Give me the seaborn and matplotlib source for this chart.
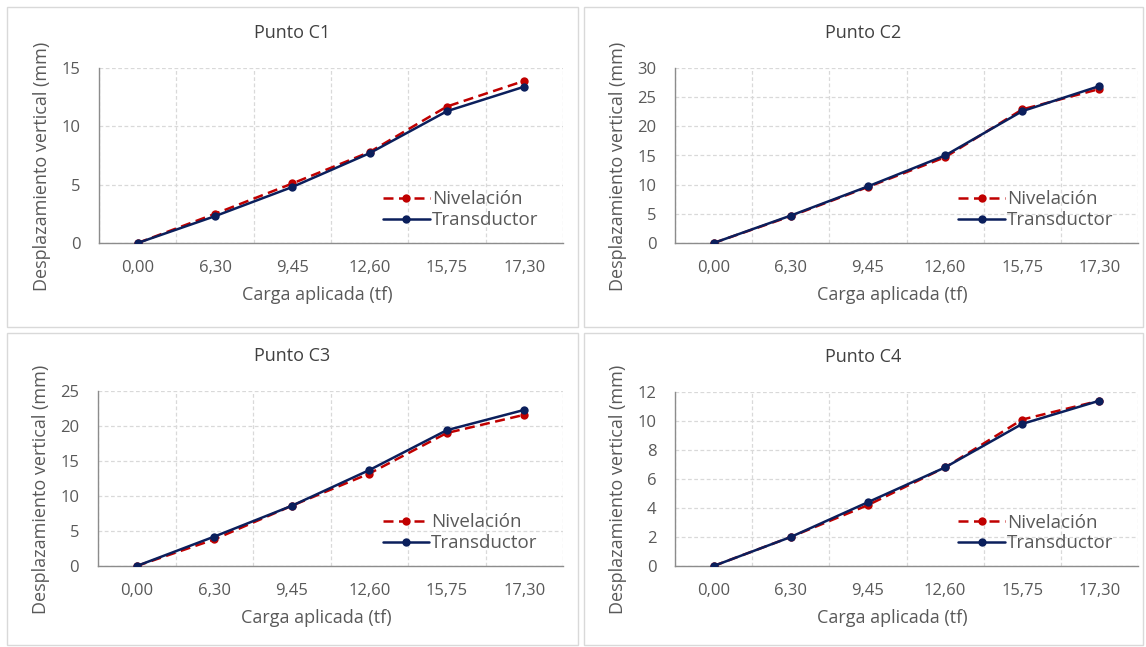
import numpy as np
import pandas as pd
import matplotlib
matplotlib.use("Agg")
import matplotlib.pyplot as plt
from matplotlib.patches import Rectangle
import seaborn as sns

# ---------------- data ----------------
cargas = ["0,00", "6,30", "9,45", "12,60", "15,75", "17,30"]
titles = ["Punto C1", "Punto C2", "Punto C3", "Punto C4"]

c1_nivelacion = [0, 2.5, 5.1, 7.8, 11.7, 13.9]
c1_transductor = [0, 2.3, 4.8, 7.7, 11.3, 13.4]
c2_nivelacion = [0, 4.6, 9.6, 14.7, 22.9, 26.4]
c2_transductor = [0, 4.7, 9.7, 15.0, 22.6, 26.9]
c3_nivelacion = [0, 3.8, 8.6, 13.2, 19.0, 21.6]
c3_transductor = [0, 4.2, 8.6, 13.7, 19.4, 22.3]
c4_nivelacion = [0, 2.0, 4.2, 6.8, 10.1, 11.4]
c4_transductor = [0, 2.0, 4.4, 6.8, 9.8, 11.4]

ymax = [15, 30, 25, 12]
ystep = [5, 5, 5, 2]

series = [
    (c1_nivelacion, c1_transductor),
    (c2_nivelacion, c2_transductor),
    (c3_nivelacion, c3_transductor),
    (c4_nivelacion, c4_transductor),
]

# ---------------- style ----------------
sns.set_theme(style="white")
plt.rcParams["font.family"] = ["Open Sans", "DejaVu Sans"]

W, H = 1146, 647
fig = plt.figure(figsize=(W / 100, H / 100), dpi=100)
fig.patch.set_facecolor("white")

TXT = "#595959"
RED = "#c00000"
NAVY = "#0b1f5c"
GRID = "#d9d9d9"
SPINE = "#8c8c8c"

# pixel boxes: (left, top, right, bottom) of plot area; panel borders
plot_boxes = [(99, 68, 563, 243), (675, 68, 1138, 243),
              (98, 391, 563, 566), (675, 392, 1138, 566)]
panel_boxes = [(7, 7, 578, 327), (584, 7, 1143, 327),
               (7, 333, 578, 645), (584, 333, 1143, 645)]

def fx(px):
    return px / W

def fy(py):
    return 1 - py / H

# panel borders
for (l, t, r, b) in panel_boxes:
    fig.patches.append(Rectangle((fx(l), fy(b)), fx(r) - fx(l), fy(t) - fy(b),
                                 transform=fig.transFigure, fill=False,
                                 edgecolor="#d9d9d9", linewidth=1.0))

for i in range(4):
    l, t, r, b = plot_boxes[i]
    ax = fig.add_axes([fx(l), fy(b), fx(r) - fx(l), fy(t) - fy(b)])
    niv, tra = series[i]
    df = pd.DataFrame({"Carga": cargas, "Nivelación": niv, "Transductor": tra})

    sns.lineplot(data=df, x="Carga", y="Nivelación", ax=ax, color=RED,
                 linewidth=1.8, linestyle=(0, (4, 2.2)), marker="o",
                 markersize=6, markeredgewidth=0, label="Nivelación",
                 sort=False, zorder=3)
    sns.lineplot(data=df, x="Carga", y="Transductor", ax=ax, color=NAVY,
                 linewidth=1.8, marker="o", markersize=6,
                 markeredgewidth=0, label="Transductor", sort=False, zorder=4)

    ax.set_xlim(-0.5, len(cargas) - 0.5)
    ax.set_ylim(0, ymax[i])
    ax.set_yticks(np.arange(0, ymax[i] + 0.1, ystep[i]))
    ax.set_xticks(np.arange(-0.5, len(cargas), 1.0), minor=True)

    ax.grid(False)
    ax.grid(True, which="minor", axis="x", color=GRID, linestyle=(0, (3, 2)), linewidth=0.9)
    ax.grid(True, which="major", axis="y", color=GRID, linestyle=(0, (3, 2)), linewidth=0.9)
    ax.set_axisbelow(True)

    for s in ["top", "right"]:
        ax.spines[s].set_visible(False)
    for s in ["left", "bottom"]:
        ax.spines[s].set_color(SPINE)
        ax.spines[s].set_linewidth(1.0)

    ax.tick_params(axis="both", which="both", length=0, colors=TXT, labelsize=12)
    ax.tick_params(axis="x", pad=12)
    ax.tick_params(axis="y", pad=13.5)

    ax.set_xlabel("Carga aplicada (tf)", fontsize=13, color=TXT)
    ax.set_ylabel("Desplazamiento vertical (mm)", fontsize=13, color=TXT)
    ax.xaxis.set_label_coords(0.47, -0.245)
    ax.yaxis.set_label_coords(-0.103, 0.44)

    leg = ax.legend(loc="center left", bbox_to_anchor=(0.612, 0.19),
                    frameon=False, fontsize=13.5, handlelength=2.5,
                    handletextpad=0.1, borderpad=0, borderaxespad=0,
                    labelspacing=0.15)
    for txt in leg.get_texts():
        txt.set_color(TXT)

    pl, pt, pr, pb = panel_boxes[i]
    fig.text(fx((pl + pr) / 2), fy(t - 35), titles[i], ha="center", va="center",
             fontsize=13, color="#404040")

fig.savefig("out.png", dpi=100, facecolor="white")
